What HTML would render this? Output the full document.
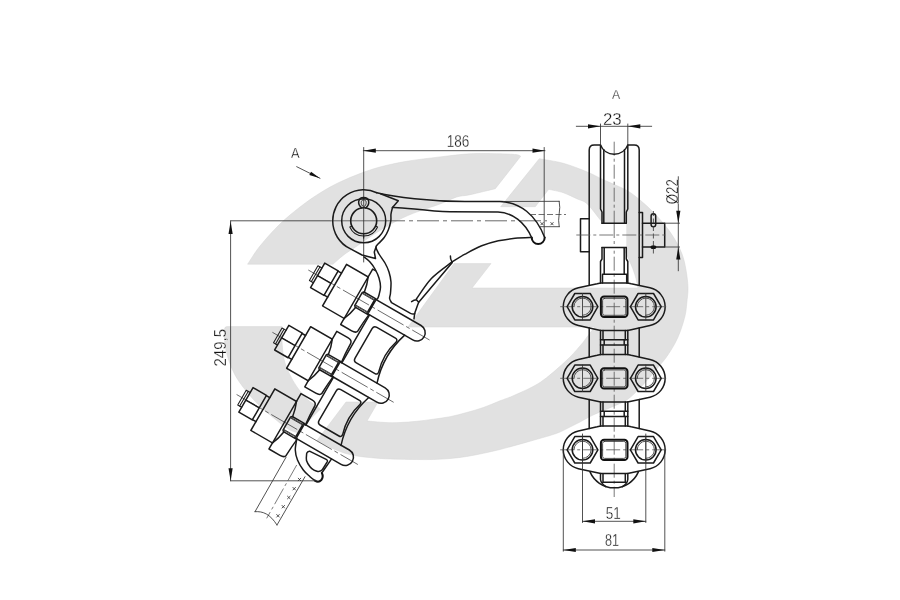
<!DOCTYPE html>
<html><head><meta charset="utf-8"><title>Drawing</title>
<style>
html,body{margin:0;padding:0;background:#fff;}
svg{display:block;filter:grayscale(1)}
.k{fill:none;stroke:#1b1b1b;stroke-width:1.5;stroke-linecap:round;stroke-linejoin:round}
.k1{fill:none;stroke:#1b1b1b;stroke-width:1.05;stroke-linecap:round;stroke-linejoin:round}
.k2{fill:none;stroke:#1b1b1b;stroke-width:1.6}
.k3{fill:none;stroke:#111;stroke-width:2;stroke-linecap:round;stroke-linejoin:round}
.t{fill:none;stroke:#333;stroke-width:0.85;stroke-linecap:round}
.t2{fill:none;stroke:#222;stroke-width:0.9}
.td{fill:none;stroke:#333;stroke-width:0.7;stroke-dasharray:6 2.5}
.td2{fill:none;stroke:#333;stroke-width:0.8;stroke-dasharray:5 2.5}
.ax{fill:none;stroke:#222;stroke-width:0.6;stroke-dasharray:30 3 4 3}
.ax2{fill:none;stroke:#222;stroke-width:0.6;stroke-dasharray:18 3 3 3}
.cl{fill:none;stroke:#6a6a6a;stroke-width:1;stroke-dasharray:22 4 4 4}
.cs{fill:none;stroke:#6a6a6a;stroke-width:1}
.cl2{fill:none;stroke:#555;stroke-width:0.8;stroke-dasharray:14 3 3 3}
.ar{fill:#111;stroke:none}
text{font-family:"Liberation Sans",sans-serif;fill:#111;stroke:#fff;stroke-width:0.3}
</style></head><body>
<svg width="900" height="600" viewBox="0 0 900 600">
<rect width="900" height="600" fill="#fff"/>
<g fill="#e1e1e1" stroke="#d4d4d4" stroke-width="0.5"><path d="M247.6,264.2 C249.7,261.2 254.6,252.7 260.0,246.0 C265.4,239.3 273.3,230.5 280.0,224.0 C286.7,217.5 293.3,212.2 300.0,207.0 C306.7,201.8 313.3,197.2 320.0,193.0 C326.7,188.8 333.3,185.2 340.0,182.0 C346.7,178.8 353.3,176.1 360.0,173.6 C366.7,171.1 372.2,169.1 380.0,167.0 C387.8,164.9 396.7,163.0 406.7,161.3 C416.7,159.6 429.4,158.2 440.0,156.9 C450.6,155.7 460.6,154.3 470.0,153.8 C479.4,153.3 489.0,153.6 496.7,153.7 C504.4,153.8 512.0,154.2 516.0,154.6 C520.0,155.0 519.9,156.0 520.7,156.3 L495.3,188.7 C491.1,189.7 476.4,193.3 470.0,194.7 C463.6,196.1 461.7,195.4 456.7,197.0 C451.7,198.6 447.2,201.3 440.0,204.0 C432.8,206.7 421.1,210.2 413.3,213.3 C405.5,216.4 400.0,219.1 393.3,222.7 C386.6,226.3 379.5,230.7 373.3,234.7 C367.1,238.7 360.9,243.4 356.0,246.7 C351.1,250.0 347.8,251.8 344.0,254.7 C340.2,257.6 334.8,262.6 333.0,264.2 Z"/><path d="M539.3,158.7 C543.3,159.5 555.3,161.1 563.3,163.3 C571.3,165.5 580.5,169.2 587.3,172.0 C594.1,174.8 597.5,177.0 604.0,180.0 C610.5,183.0 620.0,186.7 626.0,190.0 C632.0,193.3 635.7,196.5 640.0,200.0 C644.3,203.5 648.0,207.0 652.0,211.0 C656.0,215.0 660.3,219.5 664.0,224.0 C667.7,228.5 671.0,233.0 674.0,238.0 C677.0,243.0 680.0,248.7 682.0,254.0 C684.0,259.3 685.0,264.3 686.0,270.0 C687.0,275.7 687.9,282.5 688.0,288.0 C688.1,293.5 687.2,298.6 686.8,303.0 C686.3,307.4 686.3,310.2 685.3,314.7 C684.3,319.2 682.5,325.2 680.8,330.0 C679.1,334.8 677.4,338.9 675.0,343.3 C672.6,347.8 669.2,353.1 666.7,356.7 C664.2,360.3 662.8,361.6 660.0,365.0 C657.2,368.4 653.7,372.8 650.0,377.0 C646.3,381.2 641.9,386.2 638.0,390.0 C634.1,393.8 630.9,397.2 626.7,400.0 C622.5,402.8 617.5,404.5 613.0,406.5 C608.5,408.5 603.8,410.3 600.0,412.0 C596.2,413.7 593.3,414.8 590.0,416.5 C586.7,418.2 583.3,420.2 580.0,422.0 C576.7,423.8 573.3,425.3 570.0,427.0 C566.7,428.7 563.3,430.6 560.0,432.0 C556.7,433.4 554.5,434.1 550.0,435.5 C545.5,436.9 538.8,438.7 533.3,440.3 C527.8,441.9 522.2,443.5 516.7,445.0 C511.2,446.5 505.6,448.1 500.0,449.5 C494.4,450.9 488.9,452.1 483.3,453.3 C477.8,454.5 472.2,455.6 466.7,456.5 C461.1,457.4 455.6,458.0 450.0,458.5 C444.4,459.0 438.9,459.3 433.3,459.5 C427.8,459.7 422.2,459.6 416.7,459.5 C411.1,459.4 406.1,459.4 400.0,459.2 C393.9,459.0 387.7,459.0 380.0,458.4 C372.3,457.8 361.5,457.0 354.0,455.5 C346.5,454.0 341.2,452.0 335.0,449.5 C328.8,447.0 320.0,442.0 317.0,440.5 L346.0,402.0 L378.0,402.0 L367.0,421.0 C370.0,421.2 379.5,422.2 385.0,422.5 C390.5,422.8 394.7,422.7 400.0,422.5 C405.3,422.3 411.1,421.9 416.7,421.3 C422.2,420.8 427.8,420.0 433.3,419.2 C438.9,418.4 444.4,417.8 450.0,416.7 C455.6,415.6 461.1,414.0 466.7,412.5 C472.2,411.0 477.8,409.4 483.3,407.5 C488.9,405.6 494.7,402.9 500.0,400.8 C505.3,398.7 508.3,398.1 515.0,395.0 C521.7,391.9 531.7,388.0 540.0,382.5 C548.3,377.0 558.3,367.9 565.0,361.8 C571.7,355.7 575.8,350.8 580.0,346.0 C584.2,341.2 587.5,336.2 590.0,333.0 C592.5,329.8 594.2,328.0 595.0,327.0 L408.0,327.0 L454.0,263.6 L491.0,263.6 L472.0,288.0 L638.0,288.0 C637.5,285.8 636.3,279.3 635.0,275.0 C633.7,270.7 631.8,266.2 630.0,262.0 C628.2,257.8 626.7,254.3 624.0,250.0 C621.3,245.7 617.7,240.7 614.0,236.0 C610.3,231.3 606.5,227.3 602.0,222.0 C597.5,216.7 591.5,207.9 587.3,204.0 C583.1,200.1 580.7,200.6 576.7,198.7 C572.7,196.8 568.0,194.3 563.3,192.7 C558.6,191.1 551.1,189.9 548.7,189.3 L535.3,206.7 L500.7,206.7 Z"/><path d="M227.0,326.6 L282.0,326.6 C282.0,329.0 281.7,335.6 282.0,341.0 C282.3,346.4 282.8,353.7 284.0,359.0 C285.2,364.3 286.8,368.3 289.0,373.0 C291.2,377.7 294.0,382.7 297.0,387.0 C300.0,391.3 304.0,396.0 307.0,399.0 C310.0,402.0 312.8,403.3 315.0,405.0 C317.2,406.7 319.6,408.3 320.5,409.0 L297.0,432.5 C296.2,432.2 294.0,431.9 292.0,431.0 C290.0,430.1 287.8,429.0 285.0,427.0 C282.2,425.0 278.7,422.0 275.0,419.0 C271.3,416.0 266.7,412.3 263.0,409.0 C259.3,405.7 256.3,402.7 253.0,399.0 C249.7,395.3 246.0,391.0 243.0,387.0 C240.0,383.0 237.3,379.3 235.0,375.0 C232.7,370.7 230.7,366.0 229.0,361.0 C227.3,356.0 225.8,350.2 225.0,345.0 C224.2,339.8 224.5,332.5 224.4,330.0 Q224.4,326.6 227,326.6 Z"/></g>
<path class="t" d="M230.6,220.8 H330"/>
<path class="cs" d="M330,220.8 H405"/>
<path class="cl" d="M405,220.8 H547" stroke-dashoffset="22"/>
<path class="t" d="M363.7,147.5 V262"/>
<path class="t" d="M544.2,147.5 V236.5"/>
<path class="k" d="M376.8,192.7 A31,31 0 0 0 332.7,220.8 A31,31 0 0 0 350.1,248.7 L362,255 L375.5,258.5 L374.3,252 L376,247" />
<circle class="k" cx="363.7" cy="220.8" r="22"/>
<circle class="k2" cx="363.7" cy="220.8" r="13"/>
<path class="k" d="M361.7,207.9 C356.7,203.8 358.2,197.4 363.7,197.4 C369.2,197.4 370.7,203.8 365.7,207.9" />
<path class="t2" d="M363.7,207.20000000000002 C360.09999999999997,204.3 360.7,199.8 363.7,199.8 C366.7,199.8 367.3,204.3 363.7,207.20000000000002 Z" />
<path class="k1" d="M351.6,226.2 L349.8,227.0 A15.2,15.2 0 0 0 377.6,227.0 L375.8,226.2" />
<path class="k1" d="M363.7,234.8 V238.10000000000002" />
<path class="k" d="M376.8,192.7 C395,197 430,201.5 465,201.5 L500,201.6 C520,202 536,215 544.7,237.5" />
<path class="k" d="M380.5,193.8 L398.3,200.8 L392.5,207.5" />
<path class="k" d="M392.5,207.5 C405,207 425,211.5 450,211.8 L498,212 C512,212.5 525,222 531.8,238" />
<path class="k3" d="M544.7,237.5 A6.5,6.5 0 0 1 531.7,237.5" />
<path class="k" d="M531.7,237.5 C528.9,237.6 520.6,237.8 515.0,238.3 C509.4,238.9 503.9,239.6 498.3,240.8 C492.8,242.1 487.2,243.6 481.7,245.8 C476.1,248.0 469.9,251.5 465.0,254.2 C460.1,256.9 454.2,260.6 452.0,261.9" />
<path class="k" d="M450.4,256 Q450.2,259.5 452,261.9" />
<path class="k" d="M452.0,261.9 C448.6,264.7 437.3,272.3 431.4,278.5 C425.5,284.7 418.9,295.6 416.4,299.0" />
<path class="k" d="M411.6,301.6 Q414,300 416.4,299.8 L418.7,302.2 L452.3,262.5" />
<path class="k" d="M418.7,302.2 C418.3,303.2 417.0,306.6 416.4,308.5 C415.8,310.4 415.2,311.6 414.8,313.3 C414.4,315.0 414.1,317.9 414.0,318.8" />
<path class="k" d="M392.5,207.5 C392.2,208.6 391.3,211.8 391.0,214.0 C390.7,216.2 391.2,218.1 390.8,220.8 C390.4,223.5 389.4,227.2 388.3,230.0 C387.2,232.8 385.8,235.3 384.2,237.5 C382.6,239.7 380.2,241.7 378.8,243.3 C377.4,244.9 376.0,245.2 376.0,247.0 C376.0,248.8 377.5,251.3 379.0,254.0 C380.5,256.7 383.3,260.0 385.0,263.0 C386.7,266.0 388.0,268.8 389.0,272.0 C390.0,275.2 390.8,278.5 391.0,282.0 C391.2,285.5 390.7,290.2 390.5,293.0 C390.3,295.8 389.4,296.9 389.6,298.5 C389.8,300.1 391.2,301.9 391.5,302.6 L410.5,313.4 Q413,314.6 414.6,313.6" />
<path class="k" d="M364.0,257.0 C365.0,257.8 368.2,260.0 370.0,262.0 C371.8,264.0 373.5,266.3 375.0,269.0 C376.5,271.7 378.1,275.0 379.0,278.0 C379.9,281.0 380.5,284.2 380.5,287.0 C380.5,289.8 379.5,293.0 379.0,295.0 C378.5,297.0 377.8,298.3 377.5,299.0" />
<path class="t" d="M503.3,201.5 L559.2,201.3 M540,226.7 H559.2" />
<path class="t" d="M559.2,201.3 q1.2,6 0,12.5 q-1.2,6.5 0,12.9" />
<path class="td" d="M530,214.5 H566" />
<path class="t" d="M540.8,222.5 l2.4,2.4 m0,-2.4 l-2.4,2.4 M550.8,222.5 l2.4,2.4 m0,-2.4 l-2.4,2.4" />
<g transform="translate(308.3,270.0) rotate(30)">
<path class="ax" d="M0,0 H140" />
<path class="k1" d="M10.8,-8.5 H6.2 V8.5 H10.8" />
<path class="k1" d="M8.5,-8.5 V8.5" />
<path class="k" d="M10.8,-14.2 H26.3 V14.2 H10.8 Z M10.8,0.2 H26.3" />
<path class="k" d="M26.3,-13.8 H30.3 M26.3,13.8 H30.3" />
<path class="k" d="M30.3,-24 H55.3 V24 H30.3 Z" />
<path class="k" d="M59.2,-8.8 H73.5 V8.8 H59.2 L58,7.6 V-7.6 Z M72.3,-8.8 V8.8" />
<path class="t" d="M58.3,-7.3 H73.5 M58.3,7.3 H73.5 M58.6,-6.6 H73.5 M58.6,6.6 H73.5" />
<path class="k" d="M73.5,-8.3 H125.4 A8.3,8.3 0 0 1 125.4,8.3 H73.5" />
<path class="k" d="M55.3,-24 Q58.3,-17 59.6,-8.8 M55.3,24 Q58.3,17 59.6,8.8" />
<path class="k" d="M55.3,-24 V-33 H58.6" />
<path class="k" d="M55.3,24 V31 H68 Q73,31 73.4,28 C73.6,22 74,15 74.8,8.3" />
</g>
<g transform="translate(272.4,332.3) rotate(30)">
<path class="ax" d="M0,0 H140" />
<path class="k1" d="M10.8,-8.5 H6.2 V8.5 H10.8" />
<path class="k1" d="M8.5,-8.5 V8.5" />
<path class="k" d="M10.8,-14.2 H26.3 V14.2 H10.8 Z M10.8,0.2 H26.3" />
<path class="k" d="M26.3,-13.8 H30.3 M26.3,13.8 H30.3" />
<path class="k" d="M30.3,-24 H55.3 V24 H30.3 Z" />
<path class="k" d="M59.2,-8.8 H73.5 V8.8 H59.2 L58,7.6 V-7.6 Z M72.3,-8.8 V8.8" />
<path class="t" d="M58.3,-7.3 H73.5 M58.3,7.3 H73.5 M58.6,-6.6 H73.5 M58.6,6.6 H73.5" />
<path class="k" d="M73.5,-8.3 H125.4 A8.3,8.3 0 0 1 125.4,8.3 H73.5" />
<path class="k" d="M55.3,-24 Q58.3,-17 59.6,-8.8 M55.3,24 Q58.3,17 59.6,8.8" />
<path class="k" d="M55.3,-24 V-33 H68 Q73,-33 73.4,-29.5 C73.6,-22 74,-15 74.8,-8.3" />
<path class="k" d="M55.3,24 V31 H68 Q73,31 73.4,28 C73.6,22 74,15 74.8,8.3" />
</g>
<g transform="translate(236.6,394.5) rotate(30)">
<path class="ax" d="M0,0 H140" />
<path class="k1" d="M10.8,-8.5 H6.2 V8.5 H10.8" />
<path class="k1" d="M8.5,-8.5 V8.5" />
<path class="k" d="M10.8,-14.2 H26.3 V14.2 H10.8 Z M10.8,0.2 H26.3" />
<path class="k" d="M26.3,-13.8 H30.3 M26.3,13.8 H30.3" />
<path class="k" d="M30.3,-24 H55.3 V24 H30.3 Z" />
<path class="k" d="M59.2,-8.8 H73.5 V8.8 H59.2 L58,7.6 V-7.6 Z M72.3,-8.8 V8.8" />
<path class="t" d="M58.3,-7.3 H73.5 M58.3,7.3 H73.5 M58.6,-6.6 H73.5 M58.6,6.6 H73.5" />
<path class="k" d="M73.5,-8.3 H125.4 A8.3,8.3 0 0 1 125.4,8.3 H73.5" />
<path class="k" d="M55.3,-24 Q58.3,-17 59.6,-8.8 M55.3,24 Q58.3,17 59.6,8.8" />
<path class="k" d="M55.3,-24 V-33 H68 Q73,-33 73.4,-29.5 C73.6,-22 74,-15 74.8,-8.3" />
<path class="k" d="M55.3,24 V31 H68 Q73,31 73.4,28 C73.6,22 74,15 74.8,8.3" />
</g>
<g transform="translate(272.4,332.3) rotate(30)">
<path class="k" d="M75.4,-63.7 V-8.3 M75.4,8.3 V63.7" />
<path class="k" d="M88,-56.5 H109.5 Q112.3,-56.5 112,-53.5 Q106.5,-36 112,-18.5 Q112.3,-15.5 109.5,-15.5 H88 Q84.5,-15.5 84.5,-19.0 V-53.0 Q84.5,-56.5 88,-56.5 Z" />
<path class="k" d="M116,-63.7 Q107,-36 116,-8.299999999999997" />
<path class="k" d="M88,15.5 H109.5 Q112.3,15.5 112,18.5 Q106.5,36 112,53.5 Q112.3,56.5 109.5,56.5 H88 Q84.5,56.5 84.5,53.0 V19.0 Q84.5,15.5 88,15.5 Z" />
<path class="k" d="M116,8.3 Q107,36 116,63.7" />
<path class="k" d="M114.5,80.3 L113.2,96" />
</g>
<path class="k" d="M296.7,439.2 C296.5,441.0 295.2,446.5 295.3,450.0 C295.4,453.5 296.2,456.7 297.5,460.0 C298.8,463.3 301.2,467.2 303.3,470.0 C305.4,472.8 308.1,474.9 310.0,476.7 C311.9,478.5 314.2,480.0 315.0,480.6" />
<path class="k3" d="M315,480.6 Q318.5,483 321.3,480 Q323.8,477 321.8,472.8" />
<path class="k" d="M306.7,453.3 Q307.5,451 310,451.3 L326.2,459.4 Q328,460.4 327.2,461.8 L322.5,469.5 Q321,471.3 318.5,471.6 C317.8,471.4 315.4,471.0 314.0,470.2 C312.6,469.4 311.2,468.3 310.0,466.7 C308.8,465.1 307.1,462.7 306.5,460.5 C305.9,458.3 306.7,454.5 306.7,453.3" />
<path class="t" d="M286,457.3 L255,511.7 M305,476.7 L277,525" />
<path class="ax2" d="M296.7,465 L266.7,518.3" />
<path class="t" d="M255,511.7 C263,511 270,514 277,525" />
<path class="t" d="M298.2,478.2 l2.6,2.6 m0,-2.6 l-2.6,2.6" />
<path class="t" d="M292.9,487.4 l2.6,2.6 m0,-2.6 l-2.6,2.6" />
<path class="t" d="M287.5,496.2 l2.6,2.6 m0,-2.6 l-2.6,2.6" />
<path class="t" d="M282.0,505.4 l2.6,2.6 m0,-2.6 l-2.6,2.6" />
<path class="t" d="M276.7,514.5 l2.6,2.6 m0,-2.6 l-2.6,2.6" />
<path class="t" d="M363.3,150.7 H545" />
<path class="ar" transform="translate(363.3,150.7) rotate(180)" d="M0,0 L-12.5,-2.1 L-12.5,2.1 Z"/>
<path class="ar" transform="translate(545,150.7) rotate(0)" d="M0,0 L-12.5,-2.1 L-12.5,2.1 Z"/>
<path class="t" d="M230.6,221 V480.8 M230.6,480.8 H317" />
<path class="ar" transform="translate(230.6,221.5) rotate(-90)" d="M0,0 L-12.5,-2.1 L-12.5,2.1 Z"/>
<path class="ar" transform="translate(230.6,480.8) rotate(90)" d="M0,0 L-12.5,-2.1 L-12.5,2.1 Z"/>
<path class="t" d="M296.7,166.7 L320,178.3" />
<path class="ar" transform="translate(320,178.3) rotate(26.5)" d="M0,0 L-11,-1.9 L-11,1.9 Z"/>
<text x="446.7" y="146.8" font-size="15.6" textLength="22.6" lengthAdjust="spacingAndGlyphs">186</text>
<text x="226.4" y="366.5" font-size="16" textLength="37.5" lengthAdjust="spacingAndGlyphs" transform="rotate(-90 226.4 366.5)">249,5</text>
<text x="290.9" y="158.4" font-size="14" textLength="8.6" lengthAdjust="spacingAndGlyphs">A</text>
<path class="cl2" d="M614.2,141.7 V497" />
<path class="k" d="M589.2,285 V150 Q589.2,145 594.2,145 H600.5 A14.7,14.7 0 0 0 627.8,145 H634.2 Q639.2,145 639.2,150 V285" />
<path class="k" d="M600.5,145 V209 L602,212 V223.3 M627.8,145 V209 L626.3,212 V223.3" />
<path class="k" d="M603.8,149.5 V223.3 M624.5,149.5 V223.3" />
<path class="k" d="M602,247.5 V259 L600.5,261.5 V283 M626.3,247.5 V259 L627.8,261.5 V283" />
<path class="k" d="M604.2,247.5 V274.2 M624.2,247.5 V274.2" />
<rect x="602" y="223.3" width="24.3" height="24.2" fill="#fff"/>
<path class="k" d="M602,223.3 H626.3 M602,247.5 H626.3" />
<path class="k" d="M602.5,283 V274.2 H626.7 V283" />
<path class="cl2" d="M614.2,224 V247" />
<path class="k" d="M589.2,218.7 H580.5 V251.7 H589.2" />
<path class="k" d="M639.2,212.5 H642.5 V257.5 H639.2" />
<path class="k" d="M642.5,223.3 H664.7 V247 H642.5" />
<rect class="k" x="651.1" y="213.7" width="4.6" height="13" rx="2.3"/>
<ellipse cx="653.4" cy="247.2" rx="2.9" ry="1.9" fill="#111"/>
<path class="td2" d="M653.4,211 V254" />
<path class="cl2" d="M576.3,235 H666.7" />
<g transform="translate(614.2,306.7)">
<path class="k" d="M-12.5,-23.7 Q-14.5,-23.7 -17,-23 L-35.8,-18.85 A19.3,19.3 0 0 0 -35.8,18.85 L-17,23 Q-14.5,23.7 -12.5,23.7 L12.5,23.7 Q14.5,23.7 17,23 L35.8,18.85 A19.3,19.3 0 0 0 35.8,-18.85 L17,-23 Q14.5,-23.7 12.5,-23.7 Z" />
<path class="cl2" d="M-54,0 H54" />
<path class="k" d="M-16.3,0.0 L-24.0,13.2 L-39.4,13.2 L-47.1,0.0 L-39.4,-13.2 L-24.0,-13.2 Z" />
<circle class="k" cx="-31.7" cy="0" r="10.3"/>
<path class="t" d="M-40.3,0 A8.6,8.6 0 1 1 -31.7,8.6"/>
<path class="t" d="M-31.7,-13.3 V13.3" />
<path class="k" d="M47.0,0.0 L39.3,13.2 L23.9,13.2 L16.2,0.0 L23.9,-13.2 L39.3,-13.2 Z" />
<circle class="k" cx="31.6" cy="0" r="10.3"/>
<path class="t" d="M23.0,0 A8.6,8.6 0 1 1 31.6,8.6"/>
<path class="t" d="M31.6,-13.3 V13.3" />
<rect class="k3" x="-13.3" y="-10.1" width="26.6" height="20.4" rx="3.2"/>
<rect class="t" x="-11.6" y="-8.4" width="23.2" height="17" rx="2"/>
</g>
<g transform="translate(614.2,378.3)">
<path class="k" d="M-12.5,-23.7 Q-14.5,-23.7 -17,-23 L-35.8,-18.85 A19.3,19.3 0 0 0 -35.8,18.85 L-17,23 Q-14.5,23.7 -12.5,23.7 L12.5,23.7 Q14.5,23.7 17,23 L35.8,18.85 A19.3,19.3 0 0 0 35.8,-18.85 L17,-23 Q14.5,-23.7 12.5,-23.7 Z" />
<path class="cl2" d="M-54,0 H54" />
<path class="k" d="M-16.3,0.0 L-24.0,13.2 L-39.4,13.2 L-47.1,0.0 L-39.4,-13.2 L-24.0,-13.2 Z" />
<circle class="k" cx="-31.7" cy="0" r="10.3"/>
<path class="t" d="M-40.3,0 A8.6,8.6 0 1 1 -31.7,8.6"/>
<path class="t" d="M-31.7,-13.3 V13.3" />
<path class="k" d="M47.0,0.0 L39.3,13.2 L23.9,13.2 L16.2,0.0 L23.9,-13.2 L39.3,-13.2 Z" />
<circle class="k" cx="31.6" cy="0" r="10.3"/>
<path class="t" d="M23.0,0 A8.6,8.6 0 1 1 31.6,8.6"/>
<path class="t" d="M31.6,-13.3 V13.3" />
<rect class="k3" x="-13.3" y="-10.1" width="26.6" height="20.4" rx="3.2"/>
<rect class="t" x="-11.6" y="-8.4" width="23.2" height="17" rx="2"/>
</g>
<g transform="translate(614.2,449.8)">
<path class="k" d="M-12.5,-23.7 Q-14.5,-23.7 -17,-23 L-35.8,-18.85 A19.3,19.3 0 0 0 -35.8,18.85 L-17,23 Q-14.5,23.7 -12.5,23.7 L12.5,23.7 Q14.5,23.7 17,23 L35.8,18.85 A19.3,19.3 0 0 0 35.8,-18.85 L17,-23 Q14.5,-23.7 12.5,-23.7 Z" />
<path class="cl2" d="M-54,0 H54" />
<path class="k" d="M-16.3,0.0 L-24.0,13.2 L-39.4,13.2 L-47.1,0.0 L-39.4,-13.2 L-24.0,-13.2 Z" />
<circle class="k" cx="-31.7" cy="0" r="10.3"/>
<path class="t" d="M-40.3,0 A8.6,8.6 0 1 1 -31.7,8.6"/>
<path class="t" d="M-31.7,-13.3 V13.3" />
<path class="k" d="M47.0,0.0 L39.3,13.2 L23.9,13.2 L16.2,0.0 L23.9,-13.2 L39.3,-13.2 Z" />
<circle class="k" cx="31.6" cy="0" r="10.3"/>
<path class="t" d="M23.0,0 A8.6,8.6 0 1 1 31.6,8.6"/>
<path class="t" d="M31.6,-13.3 V13.3" />
<rect class="k3" x="-13.3" y="-10.1" width="26.6" height="20.4" rx="3.2"/>
<rect class="t" x="-11.6" y="-8.4" width="23.2" height="17" rx="2"/>
</g>
<path class="k" d="M589.2,328.0 V357.0 M639.2,328.0 V357.0" />
<path class="k" d="M600.5,330.4 V354.6 M627.8,330.4 V354.6" />
<path class="k" d="M603,330.4 V339.7 M625.3,330.4 V339.7 M603,345.0 V354.6 M625.3,345.0 V354.6" />
<path class="k" d="M600.5,339.7 H627.8 M600.5,345.0 H627.8 M604.2,339.7 V345.0 M624.2,339.7 V345.0" />
<path class="k" d="M589.2,399.6 V428.5 M639.2,399.6 V428.5" />
<path class="k" d="M600.5,402.0 V426.1 M627.8,402.0 V426.1" />
<path class="k" d="M603,402.0 V411.3 M625.3,402.0 V411.3 M603,416.6 V426.1 M625.3,416.6 V426.1" />
<path class="k" d="M600.5,411.3 H627.8 M600.5,416.6 H627.8 M604.2,411.3 V416.6 M624.2,411.3 V416.6" />
<path class="k" d="M590,471.9 C594,481 603,487.8 614.2,487.8 C625.4,487.8 634.4,481 638.4,471.9" />
<path class="k" d="M600.5,474 V479.5 Q601,483.5 605.8,486.7 M627.8,474 V479.5 Q627.4,483.5 622.5,486.7 M603,474 V482.2 H625.3 V474" />
<path class="t" d="M600.5,124 V145 M627.8,124 V145 M576.3,126.3 H651.7" />
<path class="ar" transform="translate(600.5,126.3) rotate(0)" d="M0,0 L-12.5,-2.1 L-12.5,2.1 Z"/>
<path class="ar" transform="translate(627.8,126.3) rotate(180)" d="M0,0 L-12.5,-2.1 L-12.5,2.1 Z"/>
<path class="t" d="M678.3,176.7 V270.8 M664.7,223.2 H679.5 M664.7,247 H679.5" />
<path class="ar" transform="translate(678.3,223.3) rotate(90)" d="M0,0 L-12.5,-2.1 L-12.5,2.1 Z"/>
<path class="ar" transform="translate(678.3,247) rotate(-90)" d="M0,0 L-12.5,-2.1 L-12.5,2.1 Z"/>
<path class="t" d="M582.5,434 V522.5 M645.8,434 V522.5 M582.5,521.3 H645.8" />
<path class="ar" transform="translate(582.5,521.3) rotate(180)" d="M0,0 L-12.5,-2.1 L-12.5,2.1 Z"/>
<path class="ar" transform="translate(645.8,521.3) rotate(0)" d="M0,0 L-12.5,-2.1 L-12.5,2.1 Z"/>
<path class="t" d="M563.3,450 V551.2 M664.8,450 V551.2 M563.3,550 H664.8" />
<path class="ar" transform="translate(563.3,550) rotate(180)" d="M0,0 L-12.5,-2.1 L-12.5,2.1 Z"/>
<path class="ar" transform="translate(664.8,550) rotate(0)" d="M0,0 L-12.5,-2.1 L-12.5,2.1 Z"/>
<text x="612" y="99.3" font-size="13.6" textLength="8.2" lengthAdjust="spacingAndGlyphs">A</text>
<text x="603" y="125.1" font-size="15.8" textLength="18.7" lengthAdjust="spacingAndGlyphs">23</text>
<text x="677.6" y="204.2" font-size="15.6" textLength="25" lengthAdjust="spacingAndGlyphs" transform="rotate(-90 677.6 204.2)">Ø22</text>
<text x="605.8" y="519" font-size="16" textLength="15" lengthAdjust="spacingAndGlyphs">51</text>
<text x="605" y="546" font-size="16" textLength="14" lengthAdjust="spacingAndGlyphs">81</text>
</svg>
</body></html>
